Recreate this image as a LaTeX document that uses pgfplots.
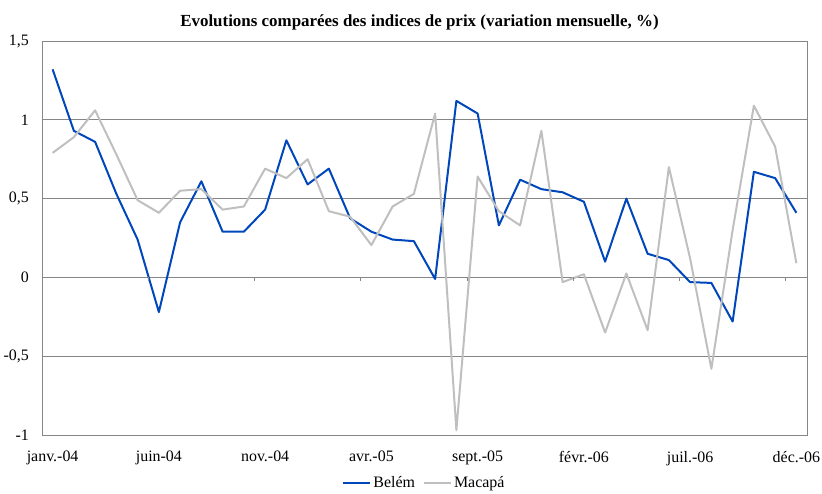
\documentclass[border=0pt]{standalone}
\usepackage{pgfplots}
\pgfplotsset{compat=1.18}
\usepackage{fontspec}
\setmainfont{Liberation Serif}
\definecolor{belem}{RGB}{0,71,187}
\definecolor{macapa}{RGB}{191,191,191}
\definecolor{gridc}{RGB}{134,134,134}
\begin{document}
\begin{tikzpicture}
\begin{axis}[
  scale only axis, width=765bp, height=394bp,
  xmin=-0.5, xmax=35.5, ymin=-1, ymax=1.5,
  axis line style={gridc, line width=0.9bp},
  xtick={0,5,...,35},
  xticklabels={janv.-04,juin-04,nov.-04,avr.-05,sept.-05,févr.-06,juil.-06,déc.-06},
  ytick={-1,-0.5,0,0.5,1,1.5},
  yticklabels={{-1},{-0,5},{0},{0,5},{1},{1,5}},
  major tick style={draw=none},
  ymajorgrids, grid style={gridc, line width=0.9bp},
  tick label style={font=\fontsize{16}{18}\selectfont},
  xticklabel style={inner sep=0pt, anchor=north, yshift=-16bp},
  yticklabel style={inner sep=0pt, anchor=east, xshift=-13bp},
  title={Evolutions comparées des indices de prix (variation mensuelle, \%)},
  title style={font=\bfseries\fontsize{17}{19}\selectfont, yshift=1bp, xshift=-5bp},
  legend style={at={(0.5,-0.122)}, anchor=center, draw=none, legend columns=2,
    font=\fontsize{16}{18}\selectfont,
    /tikz/every even column/.append style={column sep=6bp}},
  legend image code/.code={\draw[#1] (0bp,0bp) -- (27bp,0bp);},
  clip=false,
]
\addplot[belem, line width=2bp, line join=round] coordinates {
(0,1.32) (1,0.93) (2,0.86) (3,0.53) (4,0.24) (5,-0.22) (6,0.35) (7,0.61) (8,0.29) (9,0.29)
(10,0.43) (11,0.87) (12,0.59) (13,0.69) (14,0.375) (15,0.29) (16,0.24) (17,0.23) (18,-0.01) (19,1.12)
(20,1.04) (21,0.33) (22,0.62) (23,0.56) (24,0.54) (25,0.48) (26,0.10) (27,0.50) (28,0.15) (29,0.11)
(30,-0.03) (31,-0.035) (32,-0.28) (33,0.67) (34,0.63) (35,0.41)};
\addlegendentry{Belém}
\addplot[macapa, line width=2bp, line join=round] coordinates {
(0,0.79) (1,0.89) (2,1.06) (3,0.78) (4,0.49) (5,0.41) (6,0.55) (7,0.56) (8,0.43) (9,0.45)
(10,0.69) (11,0.63) (12,0.75) (13,0.42) (14,0.385) (15,0.205) (16,0.45) (17,0.53) (18,1.04) (19,-0.97)
(20,0.64) (21,0.42) (22,0.33) (23,0.93) (24,-0.03) (25,0.02) (26,-0.35) (27,0.025) (28,-0.335) (29,0.70)
(30,0.12) (31,-0.58) (32,0.30) (33,1.09) (34,0.83) (35,0.09)};
\addlegendentry{Macapá}
\pgfplotsinvokeforeach{4.5,9.5,14.5,19.5,24.5,29.5,34.5}{
  \draw[gridc, line width=0.9bp] (axis cs:#1,0) -- ++(0bp,-4bp);
}
\path (rel axis cs:0,0) ++(-42bp,-54bp) coordinate (bbsw);
\path (rel axis cs:1,1) ++(15bp,41bp) coordinate (bbne);
\path[use as bounding box] (bbsw) rectangle (bbne);
\end{axis}
\end{tikzpicture}
\end{document}
